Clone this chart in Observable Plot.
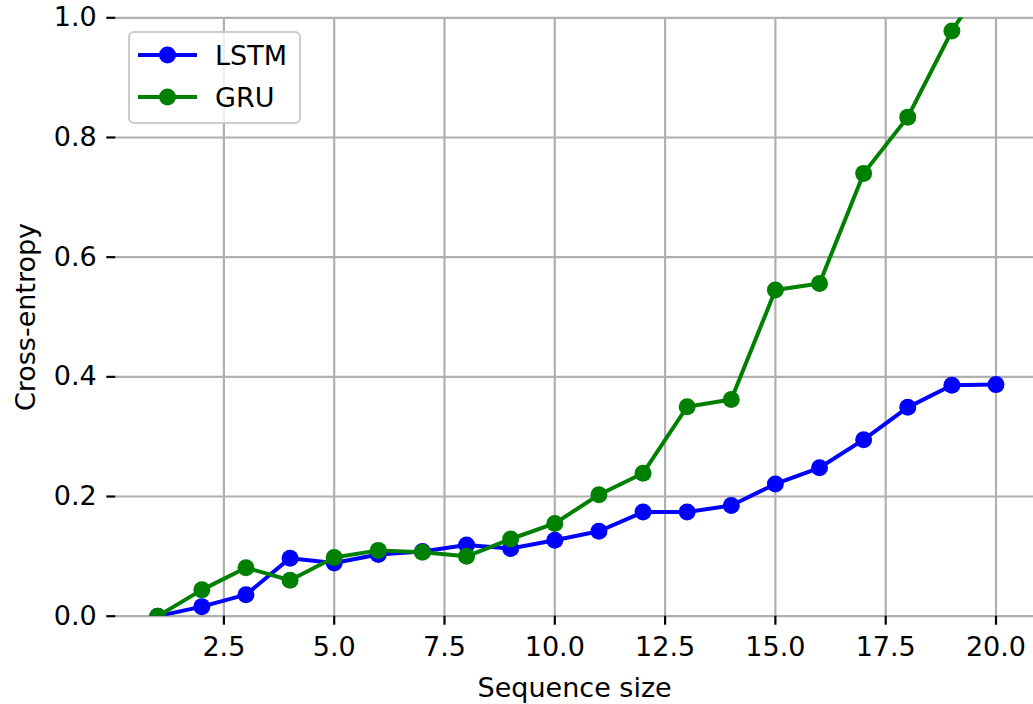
<!DOCTYPE html>
<html>
<head>
<meta charset="utf-8">
<script src="https://cdn.jsdelivr.net/npm/d3@7"></script>
<script src="https://cdn.jsdelivr.net/npm/@observablehq/plot@0.6"></script>
<style>
  body { margin: 0; background: #fff; }
  #wrap { position: relative; width: 1033px; height: 704px; overflow: hidden; font-family: "DejaVu Sans", sans-serif; }
  #legendBox { position: absolute; left: 128px; top: 31px; width: 173px; height: 93px; box-sizing: border-box;
    border: 2px solid #cccccc; border-radius: 6px; background: rgba(255,255,255,0.8); }
  .lgItem { position: absolute; height: 27px; line-height: 27px; font-size: 27px; color: #000; white-space: nowrap; }
  .lgSw { position: absolute; }
</style>
</head>
<body>
<div id="wrap"></div>
<script>
// ---- data ----
const sizes = [1, 2, 3, 4, 5, 6, 7, 8, 9, 10, 11, 12, 13, 14, 15, 16, 17, 18, 19, 20];
const lstm = [0.0, 0.016, 0.036, 0.097, 0.089, 0.103, 0.108, 0.119, 0.113, 0.127, 0.142, 0.174, 0.174, 0.185, 0.221, 0.248, 0.295, 0.349, 0.386, 0.387];
const gru  = [0.0, 0.044, 0.081, 0.060, 0.098, 0.110, 0.107, 0.100, 0.129, 0.155, 0.203, 0.239, 0.350, 0.362, 0.545, 0.556, 0.740, 0.834, 0.978, 1.09];
const seriesNames = ["LSTM", "GRU"];
const seriesColors = ["#0000ff", "#008000"];
const xTicks = [2.5, 5.0, 7.5, 10.0, 12.5, 15.0, 17.5, 20.0];
const yTicks = [0.0, 0.2, 0.4, 0.6, 0.8, 1.0];
const xLabel = "Sequence size";
const yLabel = "Cross-entropy";

const rows = (vals, name) => sizes.map((s, i) => ({size: s, value: vals[i], series: name}));
const lstmRows = rows(lstm, "LSTM");
const gruRows = rows(gru, "GRU");

const fmt = d => d.toFixed(1);

const chart = Plot.plot({
  width: 1033,
  height: 704,
  marginLeft: 115.3,
  marginRight: 0,
  marginTop: 17.3,
  marginBottom: 88.3,
  style: { fontFamily: "DejaVu Sans, sans-serif", fontSize: "27px", color: "#000", background: "#fff", overflow: "visible" },
  x: { domain: [0.05, 20.85] },
  y: { domain: [0, 1] },
  marks: [
    Plot.gridX(xTicks, { stroke: "#b0b0b0", strokeOpacity: 1, strokeWidth: 2.2 }),
    Plot.gridY(yTicks, { stroke: "#b0b0b0", strokeOpacity: 1, strokeWidth: 2.2 }),
    Plot.axisX(xTicks, { tickSize: 9, tickPadding: 12, tickFormat: fmt, strokeWidth: 2.2,
      label: xLabel, labelAnchor: "center", labelOffset: 81, labelArrow: "none", fontSize: 27 }),
    Plot.axisY(yTicks, { tickSize: 9, tickPadding: 10, tickFormat: fmt, strokeWidth: 2.2,
      label: yLabel, labelAnchor: "center", labelOffset: 100, labelArrow: "none", fontSize: 27 }),
    Plot.line(lstmRows, { x: "size", y: "value", stroke: seriesColors[0], strokeWidth: 4, clip: true }),
    Plot.dot(lstmRows, { x: "size", y: "value", r: 8.5, fill: seriesColors[0], stroke: "none", clip: true }),
    Plot.line(gruRows, { x: "size", y: "value", stroke: seriesColors[1], strokeWidth: 4, clip: true }),
    Plot.dot(gruRows, { x: "size", y: "value", r: 8.5, fill: seriesColors[1], stroke: "none", clip: true })
  ]
});

const wrap = document.getElementById("wrap");
wrap.appendChild(chart);

// legend (inside plot area, upper left)
const box = document.createElement("div");
box.id = "legendBox";
wrap.appendChild(box);
seriesNames.forEach((name, i) => {
  const cy = 55 + i * 42;
  const sw = document.createElementNS("http://www.w3.org/2000/svg", "svg");
  sw.setAttribute("class", "lgSw");
  sw.setAttribute("width", "62");
  sw.setAttribute("height", "22");
  sw.style.left = "137px";
  sw.style.top = (cy - 11) + "px";
  sw.innerHTML = `<line x1="1" y1="11" x2="60" y2="11" stroke="${seriesColors[i]}" stroke-width="4"/>` +
                 `<circle cx="30.5" cy="11" r="8.5" fill="${seriesColors[i]}"/>`;
  wrap.appendChild(sw);
  const t = document.createElement("div");
  t.className = "lgItem";
  t.style.left = "215px";
  t.style.top = (cy - 13) + "px";
  t.textContent = name;
  wrap.appendChild(t);
});
</script>
</body>
</html>
